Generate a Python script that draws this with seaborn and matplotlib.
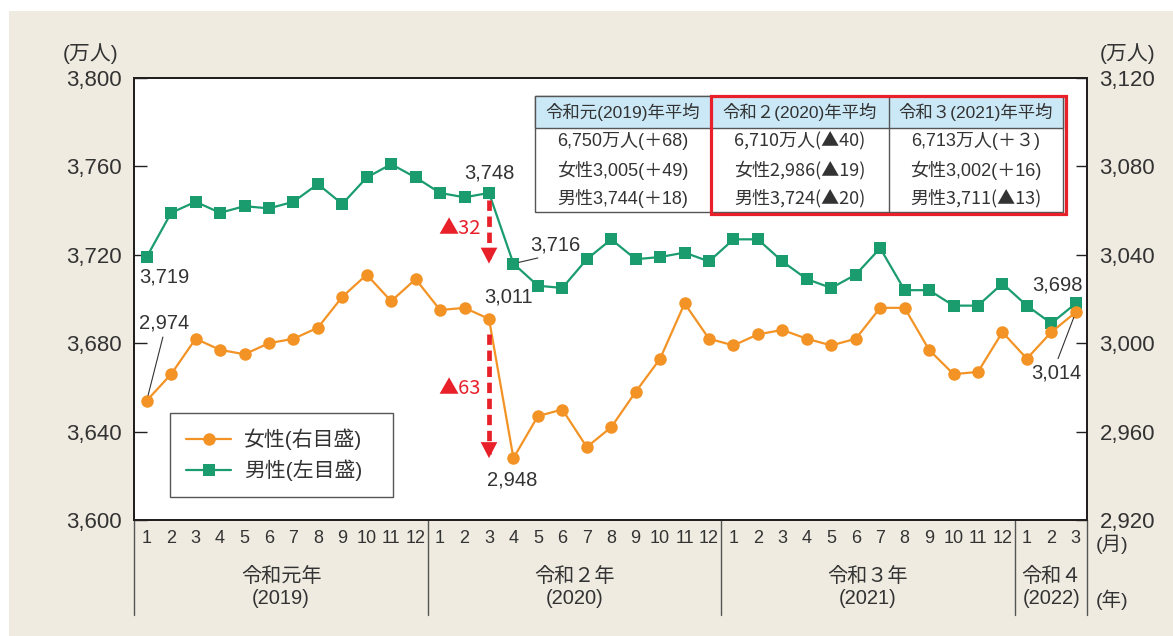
import matplotlib
matplotlib.use("Agg")
import matplotlib.pyplot as plt
import numpy as np
import pandas as pd
import seaborn as sns
from matplotlib.patches import Rectangle

# ---- data -------------------------------------------------------------
months = list(range(1, 13)) * 3 + [1, 2, 3]
year_labels = ["令和元年\n(2019)", "令和２年\n(2020)", "令和３年\n(2021)", "令和４\n(2022)"]
year_lengths = [12, 12, 12, 3]

# 女性 (右目盛, 万人)
female = [2974, 2986, 3002, 2997, 2995, 3000, 3002, 3007, 3021, 3031, 3019, 3029,
          3015, 3016, 3011, 2948, 2967, 2970, 2953, 2962, 2978, 2993, 3018, 3002,
          2999, 3004, 3006, 3002, 2999, 3002, 3016, 3016, 2997, 2986, 2987, 3005,
          2993, 3005, 3014]
# 男性 (左目盛, 万人)
male = [3719, 3739, 3744, 3739, 3742, 3741, 3744, 3752, 3743, 3755, 3761, 3755,
        3748, 3746, 3748, 3716, 3706, 3705, 3718, 3727, 3718, 3719, 3721, 3717,
        3727, 3727, 3717, 3709, 3705, 3711, 3723, 3704, 3704, 3697, 3697, 3707,
        3697, 3689, 3698]

left_ticks = [3600, 3640, 3680, 3720, 3760, 3800]
right_ticks = [2920, 2960, 3000, 3040, 3080, 3120]

table_header = ["令和元(2019)年平均", "令和２(2020)年平均", "令和３(2021)年平均"]
table_total = ["6,750万人(＋68)", "6,710万人(▲40)", "6,713万人(＋３)"]
table_female = ["女性3,005(＋49)", "女性2,986(▲19)", "女性3,002(＋16)"]
table_male = ["男性3,744(＋18)", "男性3,724(▲20)", "男性3,711(▲13)"]

legend_labels = ["女性(右目盛)", "男性(左目盛)"]

# labelled points: index -> offset of the label (points)
female_notes = {0: (12.5, 56), 14: (14, 15.5), 15: (-1, -15.5), 38: (-14, -43.5)}
male_notes = {0: (13, -14.5), 14: (0, 14), 15: (30.5, 13.5), 38: (-13.5, 13)}
drop_index = 14  # 2020年3月 -> 4月

# ---- style ------------------------------------------------------------
ORANGE = "#f39325"
GREEN = "#1b9c6f"
RED = "#e8202a"
BEIGE = "#efebe1"
TXT = "#333333"
AXC = "#231f20"
LATIN = ["Liberation Sans", "Noto Sans CJK JP"]
CJK = ["Noto Sans CJK JP", "Liberation Sans"]

sns.set_style("white")
plt.rcParams["font.family"] = LATIN
plt.rcParams["text.color"] = TXT


def fam(s):
    # the triangle sign reads better from the CJK face
    return CJK if "▲" in s else LATIN


df = pd.DataFrame({"idx": np.arange(len(months)), "female": female, "male": male})

fig = plt.figure(figsize=(11.73, 6.36), dpi=100)
fig.patch.set_facecolor("white")
fig.patches.append(Rectangle((9 / 1173, 0), 1, 625 / 636, transform=fig.transFigure,
                             facecolor=BEIGE, edgecolor="none", zorder=-10))

ax = fig.add_axes([134 / 1173, 116 / 636, 953 / 1173, 442 / 636])
ax.set_facecolor("white")
ax2 = ax.twinx()

sns.lineplot(data=df, x="idx", y="male", ax=ax, color=GREEN, marker="s",
             markersize=8.2, markeredgewidth=0, linewidth=1.6, legend=False)
sns.lineplot(data=df, x="idx", y="female", ax=ax2, color=ORANGE, marker="o",
             markersize=9, markeredgewidth=0, linewidth=1.6, legend=False)

ax.set_xlim(-0.52, len(months) - 0.54)
ax.set_ylim(left_ticks[0], left_ticks[-1])
ax2.set_ylim(right_ticks[0], right_ticks[-1])
for a in (ax, ax2):
    a.set_xlabel("")
    a.set_ylabel("")

ax.set_yticks(left_ticks, labels=[f"{v:,}" for v in left_ticks])
ax2.set_yticks(right_ticks, labels=[f"{v:,}" for v in right_ticks])
ax.set_xticks(df["idx"], labels=[str(m) for m in months])

ax.tick_params(axis="y", direction="in", length=9.5, width=1, pad=9,
               labelsize=16, color=AXC, labelcolor=TXT)
ax2.tick_params(axis="y", direction="in", length=8, width=1, pad=9,
                labelsize=16, color=AXC, labelcolor=TXT)
ax.tick_params(axis="x", direction="in", length=8.6, width=1, pad=7,
               labelsize=13, color=AXC, labelcolor=TXT)

for a in (ax, ax2):
    for s in a.spines.values():
        s.set_color(AXC)
        s.set_linewidth(1.4)

# year separators and group labels under the month axis
xt = ax.get_xaxis_transform()
ax.plot([0, 0], [0, -0.215], transform=ax.transAxes, clip_on=False, color="#555555", lw=1)
ax.plot([1, 1], [0, -0.215], transform=ax.transAxes, clip_on=False, color="#555555", lw=1)
start = 0
for n, lab in zip(year_lengths, year_labels):
    end = start + n
    if end < len(months):
        ax.plot([end - 0.5, end - 0.5], [0, -0.215], transform=xt, clip_on=False,
                color="#555555", lw=1)
    ax.text((start + end - 1) / 2, -0.153, lab, transform=xt, ha="center", va="center",
            fontsize=14.5, linespacing=1.2, color=TXT)
    start = end

fig.text(91 / 1173, 1 - 54 / 636, "(万人)", ha="center", va="center", fontsize=15)
fig.text(1128 / 1173, 1 - 54 / 636, "(万人)", ha="center", va="center", fontsize=15)
fig.text(1112 / 1173, 1 - 544 / 636, "(月)", ha="center", va="center", fontsize=14)
fig.text(1112 / 1173, 1 - 600 / 636, "(年)", ha="center", va="center", fontsize=14)


# value labels
def note(a, series, notes):
    for i, (dx, dy) in notes.items():
        v = series[i]
        far = abs(dy) > 30 or abs(dx) > 25
        props = None
        if far:
            if abs(dx) > 25:
                rel = (0.45, 0.0)
            elif dy > 0:
                rel = (0.5, 0.0)
            else:
                rel = (0.5, 1.0)
            props = dict(arrowstyle="-", color=TXT, lw=0.8, shrinkA=1, shrinkB=4,
                         relpos=rel)
        a.annotate(f"{v:,}", xy=(i, v), xytext=(dx, dy), textcoords="offset points",
                   ha="center", va="center", fontsize=14.5, color=TXT,
                   arrowprops=props, zorder=6)


note(ax, male, male_notes)
note(ax2, female, female_notes)


# drop arrows 2020年3月 -> 4月
def drop(a, series, gap):
    i = drop_index
    top, bottom = series[i] - gap, series[i + 1]
    a.plot([i, i], [top, bottom + 2], color=RED, lw=3.4, ls=(0, (2.2, 1.2)), zorder=5,
           solid_capstyle="butt", dash_capstyle="butt")
    a.annotate("", xy=(i, bottom), xytext=(i, top),
               arrowprops=dict(arrowstyle="-|>,head_length=1.15,head_width=0.6",
                               mutation_scale=10, lw=0, color=RED,
                               shrinkA=0, shrinkB=0), zorder=6)
    lab = f"▲{series[i] - series[i + 1]}"
    a.annotate(lab, xy=(i, (series[i] + series[i + 1]) / 2),
               xytext=(-21, 0), textcoords="offset points", ha="center", va="center",
               fontsize=14.5, color=RED, zorder=6, family=fam(lab))


drop(ax, male, 3)
drop(ax2, female, 7)

# legend
handles = [ax2.get_lines()[0], ax.get_lines()[0]]
leg = ax2.legend(handles, legend_labels, loc="lower left",
                 bbox_to_anchor=(0.0378, 0.052, 0.234, 0.19), mode="expand",
                 borderaxespad=0, frameon=True, fancybox=False, edgecolor="#555555",
                 framealpha=1, fontsize=15, handlelength=2.2, handletextpad=0.6,
                 labelspacing=0.45, borderpad=0.75)
leg.get_frame().set_linewidth(1.0)

# summary table (axes fraction coordinates)
tx = [0.4208, 0.6055, 0.7922, 0.9748]
ty_top, ty_head, ty_bot = 0.9593, 0.887, 0.696
tT = ax2.transAxes
ax2.add_patch(Rectangle((tx[0], ty_bot), tx[3] - tx[0], ty_top - ty_bot, transform=tT,
                        facecolor="white", edgecolor="#555555", lw=1, zorder=7))
ax2.add_patch(Rectangle((tx[0], ty_head), tx[3] - tx[0], ty_top - ty_head, transform=tT,
                        facecolor="#cbe8f6", edgecolor="#555555", lw=1, zorder=7))
for xv in tx[1:3]:
    ax2.plot([xv, xv], [ty_bot, ty_top], transform=tT, color="#555555", lw=1, zorder=8)
rows_y = [0.857, 0.792, 0.7285]
for c in range(3):
    cx = (tx[c] + tx[c + 1]) / 2
    ax2.text(cx, (ty_top + ty_head) / 2, table_header[c], transform=tT, ha="center",
             va="center", fontsize=12.5, zorder=9)
    for ry, row in zip(rows_y, (table_total, table_female, table_male)):
        ax2.text(cx, ry, row[c], transform=tT, ha="center", va="center",
                 fontsize=13, zorder=9, family=fam(row[c]))
ax2.add_patch(Rectangle((tx[1], ty_bot - 0.004), tx[3] - tx[1] + 0.003,
                        ty_top - ty_bot + 0.004, transform=tT, facecolor="none",
                        edgecolor=RED, lw=2.3, zorder=10))

fig.savefig("out.png", dpi=100)
